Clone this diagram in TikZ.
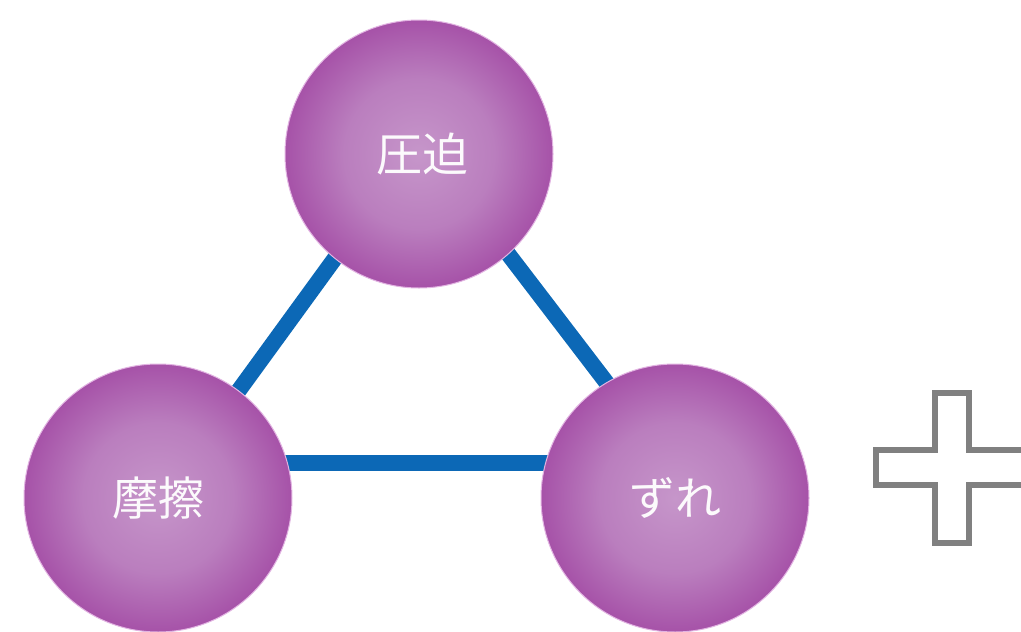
\documentclass[tikz,border=0pt]{standalone}
\usepackage{fontspec}
\newfontfamily\cjk{Noto Sans CJK JP}
\usetikzlibrary{shadings}
\definecolor{ballin}{RGB}{198,150,202}
\definecolor{ballmid}{RGB}{186,126,190}
\definecolor{ballout}{RGB}{166,82,168}
\definecolor{ballrim}{RGB}{226,180,226}
\definecolor{linkblue}{RGB}{12,104,182}
\definecolor{plusgray}{RGB}{128,128,128}
\pgfdeclareradialshading{ballshade}{\pgfpoint{0bp}{0bp}}{%
  color(0bp)=(ballin); color(14bp)=(ballmid); color(25bp)=(ballout); color(50bp)=(ballout)}
\tikzset{
  ball/.style={circle, minimum size=268pt, inner sep=0pt,
    shading=ballshade,
    draw=ballrim, line width=1pt,
    text=white!95!ballin, font=\cjk\fontsize{46}{46}\selectfont},
  link/.style={draw=linkblue, line width=16pt},
  plusline/.style={draw=plusgray, line width=6.5pt, line join=miter}
}
\begin{document}
\begin{tikzpicture}[x=1pt,y=-1pt]
\useasboundingbox (0,0) rectangle (1021,632);
\fill[white] (0,0) rectangle (1021,632);
% triangle corners
\coordinate (apex) at (421,140);
\coordinate (bl) at (186,463);
\coordinate (br) at (668,463);
\draw[link] (apex) -- (bl);
\draw[link] (bl) -- (br);
\draw[link] (br) -- (apex);
% balls
\node[ball] (top) at (419,154) {\hspace*{6pt}圧迫};
\node[ball] (left) at (158,498) {\raisebox{-4pt}{摩擦}};
\node[ball] (right) at (675,498) {\raisebox{-4pt}{ずれ}};
% plus sign
\begin{scope}
\clip (0,0) rectangle (1021,632);
\draw[plusline] (935,393) -- (969,393) -- (969,450) -- (1030,450) -- (1030,485)
  -- (969,485) -- (969,543) -- (935,543) -- (935,485) -- (876,485)
  -- (876,450) -- (935,450) -- cycle;
\end{scope}
\end{tikzpicture}
\end{document}
